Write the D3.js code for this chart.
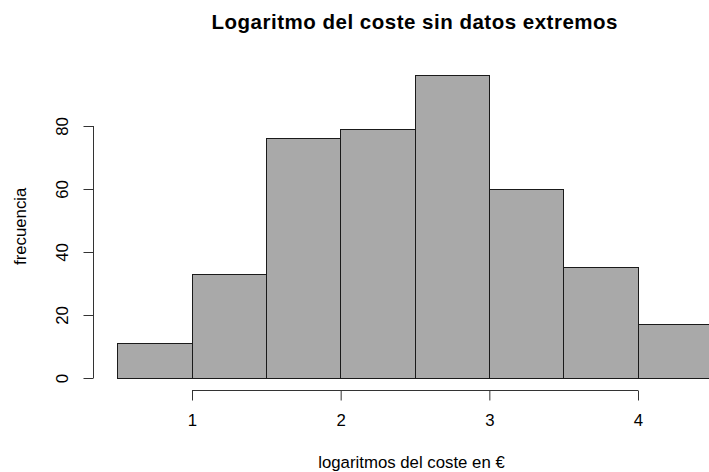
<!DOCTYPE html>
<html>
<head>
<meta charset="utf-8">
<script src="https://cdn.jsdelivr.net/npm/d3@7"></script>
<style>
  body { margin: 0; background: #fff; }
  text { font-family: "Liberation Sans", Arial, sans-serif; fill: #000; }
</style>
</head>
<body>
<div id="chart"></div>
<script>
// histogram breaks and counts
var breaks = [0.5, 1, 1.5, 2, 2.5, 3, 3.5, 4, 4.5];
var counts = [11, 33, 76, 79, 96, 60, 35, 17];
var xTicks = [1, 2, 3, 4];
var yTicks = [0, 20, 40, 60, 80];

var titleText = "Logaritmo del coste sin datos extremos";
var xLabel = "logaritmos del coste en \u20ac";
var yLabel = "frecuencia";

var width = 709, height = 472;
var labelSize = "16.8px";

var x = d3.scaleLinear().domain([1, 4]).range([191.5, 637.5]);
var y = d3.scaleLinear().domain([0, 80]).range([377.5, 125.5]);

var svg = d3.select("#chart").append("svg")
    .attr("width", width)
    .attr("height", height);

// bars
var bins = counts.map(function (c, i) {
    return { x0: breaks[i], x1: breaks[i + 1], n: c };
});

svg.append("g").selectAll("rect")
    .data(bins)
    .enter().append("rect")
    .attr("x", d => Math.round(x(d.x0)) + 0.5)
    .attr("y", d => Math.round(y(d.n)) + 0.5)
    .attr("width", d => Math.round(x(d.x1)) - Math.round(x(d.x0)))
    .attr("height", d => Math.round(y(0)) - Math.round(y(d.n)))
    .attr("fill", "#a9a9a9")
    .attr("stroke", "#1a1a1a")
    .attr("stroke-width", 1);

// x axis (R style: line spans first to last tick)
var xAxis = d3.axisBottom(x)
    .tickValues(xTicks)
    .tickFormat(d3.format("d"))
    .tickSizeOuter(0)
    .tickSize(10)
    .tickPadding(14);

var gx = svg.append("g")
    .attr("transform", "translate(0.5," + 390.5 + ")")
    .call(xAxis);
gx.select(".domain").remove();
gx.append("line")
    .attr("x1", x(1)).attr("x2", x(4))
    .attr("stroke", "#333");
gx.selectAll(".tick line").attr("stroke", "#333");
gx.selectAll(".tick text")
    .style("font-size", labelSize)
    .style("font-family", "'Liberation Sans', Arial, sans-serif")
    .attr("fill", "#000");

// y axis
var yAxis = d3.axisLeft(y)
    .tickValues(yTicks)
    .tickSize(10)
    .tickSizeOuter(0);

var gy = svg.append("g")
    .attr("transform", "translate(93.5,0.5)")
    .call(yAxis);
gy.select(".domain").remove();
gy.append("line")
    .attr("y1", y(0)).attr("y2", y(80))
    .attr("stroke", "#333");
gy.selectAll(".tick line").attr("stroke", "#333");
gy.selectAll(".tick text")
    .attr("x", null).attr("dy", null)
    .attr("transform", "translate(-31,0) rotate(-90)")
    .attr("text-anchor", "middle")
    .attr("dominant-baseline", "central")
    .style("font-size", labelSize)
    .style("font-family", "'Liberation Sans', Arial, sans-serif")
    .attr("fill", "#000");

// title
svg.append("text")
    .attr("x", x(2.5))
    .attr("y", 29)
    .attr("text-anchor", "middle")
    .attr("textLength", 406)
    .attr("lengthAdjust", "spacing")
    .style("font-size", "20.5px")
    .style("font-weight", "bold")
    .text(titleText);

// axis titles
svg.append("text")
    .attr("x", x(2.5) - 3)
    .attr("y", 468)
    .attr("text-anchor", "middle")
    .style("font-size", labelSize)
    .text(xLabel);

svg.append("text")
    .attr("transform", "translate(26," + y(48) + ") rotate(-90)")
    .attr("text-anchor", "middle")
    .style("font-size", labelSize)
    .text(yLabel);
</script>
</body>
</html>
